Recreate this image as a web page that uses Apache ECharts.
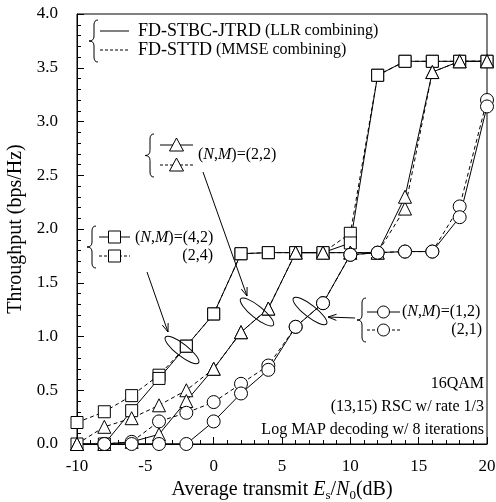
<!DOCTYPE html>
<html><head><meta charset="utf-8">
<script src="https://cdn.jsdelivr.net/npm/echarts@6/dist/echarts.min.js"></script>
<style>html,body{margin:0;padding:0;background:#fff}#c{width:496px;height:502px}</style>
</head><body><div id="c"></div>
<script>
// ---- data ----
const snr = [-10,-8,-6,-4,-2,0,2,4,6,8,10,12,14,16,18,20];
const jtrd42 = [0, 0, 0.31, 0.61, 0.91, 1.21, 1.77, 1.78, 1.78, 1.78, 1.87, 3.43, 3.56, 3.56, 3.56, 3.56];
const sttd24 = [0.20, 0.30, 0.45, 0.64, 0.91, 1.21, 1.77, 1.78, 1.78, 1.78, 1.96, 3.43, 3.56, 3.56, 3.56, 3.56];
const jtrd22 = [0, 0, 0.02, 0.09, 0.40, 0.70, 1.04, 1.26, 1.78, 1.78, 1.78, 1.78, 2.30, 3.46, 3.56, 3.56];
const sttd22 = [0, 0.16, 0.24, 0.36, 0.50, 0.70, 1.04, 1.26, 1.78, 1.78, 1.78, 1.78, 2.19, 3.46, 3.56, 3.56];
const jtrd12 = [null, 0, 0, 0, 0, 0.21, 0.47, 0.69, 1.09, 1.31, 1.76, 1.78, 1.79, 1.79, 2.11, 3.14];
const sttd21 = [null, 0, 0.02, 0.21, 0.29, 0.39, 0.56, 0.73, 1.09, 1.31, 1.76, 1.78, 1.79, 1.79, 2.21, 3.20];
const xTickStep = 5, yTickStep = 0.5;

const FONT = 'Liberation Serif';
const zip = arr => snr.map((x, i) => [x, arr[i]]);

function mkSeries(name, arr, symbol, size, dashed) {
  return {
    name, type: 'line', data: zip(arr), symbol, symbolSize: size,
    connectNulls: false, showAllSymbol: true,
    lineStyle: { color: '#000', width: 1, type: dashed ? [4, 3] : 'solid' },
    itemStyle: { color: '#fff', borderColor: '#000', borderWidth: 1 },
    emphasis: { disabled: true }, animation: false, z: 3
  };
}

const chart = echarts.init(document.getElementById('c'), null, { renderer: 'canvas' });

// ---- annotation helpers (decorations only) ----
const K = '#000';
function line(x1, y1, x2, y2, dashed) {
  return { type: 'line', shape: { x1, y1, x2, y2 }, style: { stroke: K, lineWidth: 1, lineDash: dashed ? [3, 2] : null }, z: 10 };
}
function brace(x, y1, y2) {
  const ym = (y1 + y2) / 2, s = { stroke: K, lineWidth: 1, fill: 'none' };
  return [
    { type: 'bezierCurve', shape: { x1: x + 4, y1: y1, cpx1: x, cpy1: y1, x2: x, y2: y1 + 5 }, style: s, z: 10 },
    { type: 'line', shape: { x1: x, y1: y1 + 5, x2: x, y2: ym - 5 }, style: s, z: 10 },
    { type: 'bezierCurve', shape: { x1: x, y1: ym - 5, cpx1: x, cpy1: ym, x2: x - 5, y2: ym }, style: s, z: 10 },
    { type: 'bezierCurve', shape: { x1: x - 5, y1: ym, cpx1: x, cpy1: ym, x2: x, y2: ym + 5 }, style: s, z: 10 },
    { type: 'line', shape: { x1: x, y1: ym + 5, x2: x, y2: y2 - 5 }, style: s, z: 10 },
    { type: 'bezierCurve', shape: { x1: x, y1: y2 - 5, cpx1: x, cpy1: y2, x2: x + 4, y2: y2 }, style: s, z: 10 }
  ];
}
function arrow(x1, y1, x2, y2) {
  const a = Math.atan2(y2 - y1, x2 - x1), L = 9, w = 0.35;
  return [
    line(x1, y1, x2, y2),
    { type: 'polyline', shape: { points: [[x2 - L * Math.cos(a - w), y2 - L * Math.sin(a - w)], [x2, y2], [x2 - L * Math.cos(a + w), y2 - L * Math.sin(a + w)]] }, style: { stroke: K, lineWidth: 1, fill: 'none' }, z: 10 }
  ];
}
function ellipse(cx, cy, deg) {
  return { type: 'ellipse', x: cx, y: cy, rotation: -deg * Math.PI / 180, shape: { cx: 0, cy: 0, rx: 21, ry: 6 }, style: { stroke: K, lineWidth: 1, fill: 'none' }, z: 10 };
}
function mark(kind, cx, cy) {
  const st = { stroke: K, lineWidth: 1, fill: '#fff' };
  if (kind === 'rect') return { type: 'rect', shape: { x: cx - 6, y: cy - 6, width: 12, height: 12 }, style: st, z: 11 };
  if (kind === 'circle') return { type: 'circle', shape: { cx, cy, r: 6 }, style: st, z: 11 };
  return { type: 'polygon', shape: { points: [[cx, cy - 7], [cx + 7, cy + 6], [cx - 7, cy + 6]] }, style: st, z: 11 };
}
function sample(kind, x1, x2, y, dashed) {
  return [line(x1, y, x2, y, dashed), mark(kind, (x1 + x2) / 2, y)];
}
function text(x, y, rich, align, size) {
  const fs = size || 16;
  return { type: 'text', x, y, style: { text: rich, fontFamily: FONT, fontSize: fs, fill: K, align: align || 'left', verticalAlign: 'middle',
    rich: { i: { fontStyle: 'italic', fontFamily: FONT, fontSize: fs }, s: { fontFamily: FONT, fontSize: 16 }, b: { fontFamily: FONT, fontSize: 18 } } }, z: 12 };
}

const graphics = [].concat(
  // top legend
  brace(94, 20, 62),
  [line(100, 31, 129, 31, false), text(138, 31, '{b|FD-STBC-JTRD} {s|(LLR combining)}')],
  [line(100, 50, 129, 50, true), text(138, 50, '{b|FD-STTD} {s|(MMSE combining)}')],
  // (2,2)
  brace(150, 134, 177),
  sample('tri', 160, 193, 145, false), sample('tri', 160, 193, 165, true),
  [text(198, 155, '({i|N},{i|M})=(2,2)')],
  arrow(203, 172, 247, 296),
  // (4,2)/(2,4)
  brace(92, 226, 268),
  sample('rect', 99, 130, 237, false), sample('rect', 99, 130, 256, true),
  [text(135, 238, '({i|N},{i|M})=(4,2)'), text(213, 256, '(2,4)', 'right')],
  arrow(147, 272, 168, 332),
  // (1,2)/(2,1)
  brace(362, 298, 342),
  sample('circle', 367, 400, 312, false), sample('circle', 367, 400, 330, true),
  [text(402, 312, '({i|N},{i|M})=(1,2)'), text(482, 330, '(2,1)', 'right')],
  arrow(355, 318, 328, 317),
  // ellipses
  [ellipse(182, 350, 38), ellipse(257, 312, 39), ellipse(310, 311, 38)],
  // info text
  [text(484, 384, '16QAM', 'right'), text(484, 407, '(13,15) RSC w/ rate 1/3', 'right'), text(484, 430, 'Log MAP decoding w/ 8 iterations', 'right')]
);

const axisCommon = {
  axisLine: { show: true, onZero: false, lineStyle: { color: '#000', width: 1 } },
  axisTick: { show: true, inside: true, length: 7, lineStyle: { color: '#000', width: 1 } },
  minorTick: { show: true, splitNumber: 5, length: 4, lineStyle: { color: '#000', width: 1 } },
  splitLine: { show: false }
};

chart.setOption({
  animation: false,
  backgroundColor: '#fff',
  grid: { left: 77, right: 9, top: 14, bottom: 58, show: true, borderColor: '#000', borderWidth: 1, backgroundColor: 'transparent', containLabel: false, outerBoundsMode: 'none' },
  xAxis: Object.assign({
    type: 'value', min: -10, max: 20, interval: xTickStep,
    name: '{n|Average transmit }{i|E}{sub|s}{n|/}{i|N}{sub|0}{n|(dB)}',
    nameLocation: 'middle', nameGap: 33,
    nameTextStyle: { fontFamily: FONT, fontSize: 20, color: '#000',
      rich: { n: { fontFamily: FONT, fontSize: 20 }, i: { fontFamily: FONT, fontSize: 20, fontStyle: 'italic' }, sub: { fontFamily: FONT, fontSize: 13, padding: [12, 0, 0, 0] } } },
    axisLabel: { fontFamily: FONT, fontSize: 17, color: '#000', margin: 14 }
  }, axisCommon),
  yAxis: Object.assign({
    type: 'value', min: 0, max: 4, interval: yTickStep,
    name: 'Throughput (bps/Hz)', nameLocation: 'middle', nameGap: 48,
    nameTextStyle: { fontFamily: FONT, fontSize: 20, color: '#000' },
    axisLabel: { fontFamily: FONT, fontSize: 17, color: '#000', margin: 19, formatter: v => v.toFixed(1) }
  }, axisCommon),
  series: [
    mkSeries('FD-STTD (2,4)', sttd24, 'rect', 12, true),
    mkSeries('FD-STBC-JTRD (4,2)', jtrd42, 'rect', 12, false),
    mkSeries('FD-STTD (2,2)', sttd22, 'triangle', 13, true),
    mkSeries('FD-STBC-JTRD (2,2)', jtrd22, 'triangle', 13, false),
    mkSeries('FD-STTD (2,1)', sttd21, 'circle', 13, true),
    mkSeries('FD-STBC-JTRD (1,2)', jtrd12, 'circle', 13, false)
  ],
  graphic: { elements: graphics }
});
</script></body></html>
